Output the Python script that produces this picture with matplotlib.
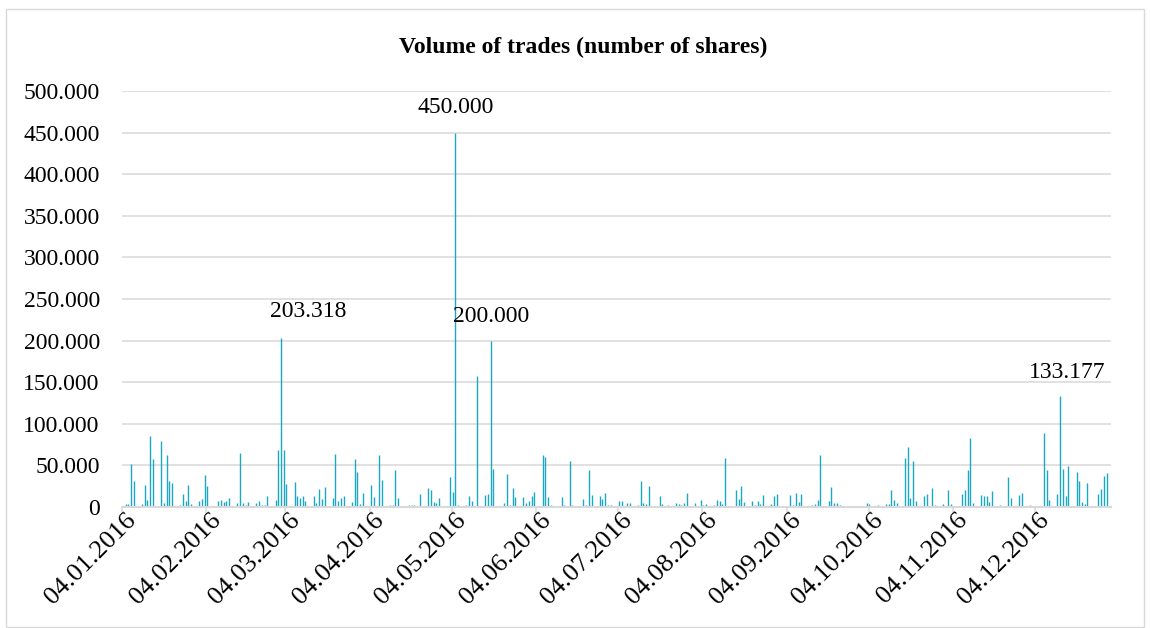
import matplotlib
matplotlib.use("Agg")
import matplotlib.pyplot as plt
import matplotlib.dates as mdates
from matplotlib.patches import Rectangle
from matplotlib.ticker import FuncFormatter
from matplotlib.transforms import ScaledTranslation
import numpy as np
import datetime as dt

# ---- data ----
trade_dates = [
    "2016-01-05", "2016-01-06", "2016-01-07", "2016-01-08", "2016-01-11", "2016-01-12", "2016-01-13",
    "2016-01-14", "2016-01-15", "2016-01-18", "2016-01-19", "2016-01-20", "2016-01-21", "2016-01-22",
    "2016-01-25", "2016-01-26", "2016-01-27", "2016-01-28", "2016-01-29",
    "2016-02-01", "2016-02-02", "2016-02-03", "2016-02-04", "2016-02-05", "2016-02-08", "2016-02-09",
    "2016-02-10", "2016-02-11", "2016-02-12", "2016-02-15", "2016-02-16", "2016-02-17", "2016-02-18",
    "2016-02-19", "2016-02-22", "2016-02-23", "2016-02-24", "2016-02-25", "2016-02-26", "2016-02-29",
    "2016-03-01", "2016-03-02", "2016-03-03", "2016-03-04", "2016-03-07", "2016-03-08", "2016-03-09",
    "2016-03-10", "2016-03-11", "2016-03-14", "2016-03-15", "2016-03-16", "2016-03-17", "2016-03-18",
    "2016-03-21", "2016-03-22", "2016-03-23", "2016-03-24", "2016-03-25", "2016-03-28", "2016-03-29",
    "2016-03-30", "2016-03-31",
    "2016-04-01", "2016-04-04", "2016-04-05", "2016-04-07", "2016-04-08", "2016-04-11", "2016-04-12",
    "2016-04-13", "2016-04-14", "2016-04-15", "2016-04-18", "2016-04-19", "2016-04-20", "2016-04-22",
    "2016-04-25", "2016-04-26", "2016-04-27", "2016-04-28", "2016-04-29",
    "2016-05-03", "2016-05-04", "2016-05-05", "2016-05-06", "2016-05-09", "2016-05-10", "2016-05-11",
    "2016-05-13", "2016-05-16", "2016-05-17", "2016-05-18", "2016-05-19", "2016-05-23", "2016-05-24",
    "2016-05-25", "2016-05-26", "2016-05-27", "2016-05-30", "2016-05-31",
    "2016-06-01", "2016-06-02", "2016-06-03", "2016-06-06", "2016-06-07", "2016-06-08", "2016-06-09",
    "2016-06-10", "2016-06-13", "2016-06-14", "2016-06-16", "2016-06-17", "2016-06-21", "2016-06-22",
    "2016-06-23", "2016-06-24", "2016-06-27", "2016-06-28", "2016-06-29", "2016-06-30",
    "2016-07-01", "2016-07-04", "2016-07-05", "2016-07-06", "2016-07-07", "2016-07-08", "2016-07-11",
    "2016-07-12", "2016-07-13", "2016-07-14", "2016-07-15", "2016-07-19", "2016-07-20", "2016-07-22",
    "2016-07-25", "2016-07-26", "2016-07-27", "2016-07-28", "2016-07-29",
    "2016-08-01", "2016-08-03", "2016-08-04", "2016-08-05", "2016-08-08", "2016-08-09", "2016-08-10",
    "2016-08-11", "2016-08-12", "2016-08-16", "2016-08-17", "2016-08-18", "2016-08-19", "2016-08-22",
    "2016-08-23", "2016-08-24", "2016-08-25", "2016-08-26", "2016-08-29", "2016-08-30", "2016-08-31",
    "2016-09-02", "2016-09-05", "2016-09-06", "2016-09-07", "2016-09-08", "2016-09-09", "2016-09-12",
    "2016-09-13", "2016-09-14", "2016-09-15", "2016-09-16", "2016-09-19", "2016-09-20", "2016-09-21",
    "2016-09-22", "2016-09-23", "2016-09-26", "2016-09-29",
    "2016-10-03", "2016-10-04", "2016-10-07", "2016-10-10", "2016-10-11", "2016-10-12", "2016-10-13",
    "2016-10-14", "2016-10-17", "2016-10-18", "2016-10-19", "2016-10-20", "2016-10-21", "2016-10-24",
    "2016-10-25", "2016-10-26", "2016-10-27", "2016-10-28", "2016-10-31",
    "2016-11-02", "2016-11-03", "2016-11-07", "2016-11-08", "2016-11-09", "2016-11-10", "2016-11-11",
    "2016-11-14", "2016-11-15", "2016-11-16", "2016-11-17", "2016-11-18", "2016-11-21", "2016-11-23",
    "2016-11-24", "2016-11-25", "2016-11-28", "2016-11-29",
    "2016-12-02", "2016-12-06", "2016-12-07", "2016-12-08", "2016-12-09", "2016-12-12", "2016-12-13",
    "2016-12-14", "2016-12-15", "2016-12-16", "2016-12-19", "2016-12-20", "2016-12-21", "2016-12-22",
    "2016-12-23", "2016-12-27", "2016-12-28", "2016-12-29", "2016-12-30",
]

volumes = [
    4000, 4000, 52000, 31700, 3600, 26000, 9000,
    85000, 58000, 79000, 5000, 62000, 31700, 28500,
    2000, 15400, 7000, 26000, 3700,
    7000, 10000, 38000, 25000, 1000, 7000, 9000,
    6000, 7000, 11000, 4500, 64600, 5000, 2000,
    6500, 4500, 7000, 2400, 2400, 13000, 9000,
    68000, 203318, 69000, 28000, 30000, 13000, 11000,
    13400, 7000, 13000, 5000, 22000, 10000, 24000,
    11000, 64000, 7000, 10500, 13400, 6000, 57700,
    41500, 3700,
    17000, 27000, 12000, 62000, 33000, 2000, 2000,
    44700, 11000, 1000, 2000, 2000, 2400, 16000,
    22700, 20000, 6000, 4500, 11000,
    36000, 17500, 450000, 3000, 3000, 13400, 7000,
    158000, 14000, 16000, 200000, 46000, 5000, 40000,
    2000, 23000, 12000, 12000, 5000,
    7000, 13000, 18000, 62000, 60500, 12600, 2400,
    1600, 12000, 2000, 55000, 2400, 10000, 2400,
    44000, 14000, 13000, 10000, 16700, 2000,
    2000, 7000, 7000, 1600, 4500, 5000, 3000,
    31700, 5000, 3700, 25600, 13400, 3700, 2000,
    4500, 3700, 2000, 4500, 16700,
    4500, 8000, 3000, 3700, 3000, 9000, 7000,
    3700, 59000, 20000, 10000, 25000, 6500, 7000,
    3000, 7000, 3700, 14000, 3700, 13400, 15400,
    1000, 14000, 3000, 16700, 6000, 15400, 1000,
    3000, 3700, 8500, 62000, 7700, 24000, 4500,
    4500, 2400, 1000, 800,
    5000, 4000, 2000, 3700, 3700, 20000, 9000,
    4500, 59000, 72000, 11000, 55700, 7000, 13400,
    15800, 1600, 23000, 2000, 3700,
    20000, 3700, 15400, 20000, 44000, 82500, 4500,
    15000, 13400, 13400, 6500, 19000, 2400, 1000,
    36000, 11000, 14600, 17000,
    2000, 1000, 88600, 44700, 9000, 15800, 133177,
    46000, 13400, 49600, 41500, 31700, 6000, 3700,
    29000, 15400, 21500, 37400, 41000,
]

tick_dates = ["2016-01-04", "2016-02-04", "2016-03-04", "2016-04-04", "2016-05-04", "2016-06-04",
              "2016-07-04", "2016-08-04", "2016-09-04", "2016-10-04", "2016-11-04", "2016-12-04"]
labelled_dates = ["2016-03-02", "2016-05-05", "2016-05-18", "2016-12-13"]
y_ticks = [0, 50000, 100000, 150000, 200000, 250000, 300000, 350000, 400000, 450000, 500000]
title_text = "Volume of trades (number of shares)"

# ---- style ----
W, H = 1151, 628
SERIF = ["Liberation Serif", "DejaVu Serif"]
BAR_COLOR = "#1BA8C3"
GRID_COLOR = "#D9D9D9"

def to_num(s):
    return mdates.date2num(dt.datetime.strptime(s, "%Y-%m-%d"))

x = np.array([to_num(d) for d in trade_dates])
y = np.array(volumes, dtype=float)

fig = plt.figure(figsize=(W / 100, H / 100), dpi=100)
fig.patch.set_facecolor("white")

# chart border
fig.patches.append(Rectangle((6 / W, 1 - 627 / H), (1144 - 6) / W, (627 - 9) / H,
                             transform=fig.transFigure, fill=False,
                             edgecolor=GRID_COLOR, linewidth=1.0))

left, right, top, bottom = 122, 1111, 91, 507
ax = fig.add_axes([left / W, 1 - bottom / H, (right - left) / W, (bottom - top) / H])

# thin daily bars (about 1.4 px wide)
ax.vlines(x + 0.35, 0, y, colors=BAR_COLOR, linewidth=1.0, snap=True, zorder=3)

ax.set_xlim(to_num("2016-01-04"), to_num("2017-01-01"))
ax.set_ylim(0, 500000)

ax.set_yticks(y_ticks)
ax.yaxis.set_major_formatter(FuncFormatter(lambda v, p: f"{int(v):,}".replace(",", ".")))
ax.grid(axis="y", color=GRID_COLOR, linewidth=1.1, zorder=0)
ax.tick_params(axis="y", length=0, pad=16, labelsize=17)
for lab in ax.get_yticklabels():
    lab.set_fontfamily(SERIF)

ax.set_xticks([to_num(d) for d in tick_dates])
ax.xaxis.set_major_formatter(mdates.DateFormatter("%d.%m.%Y"))
ax.tick_params(axis="x", length=5, width=1.1, color=GRID_COLOR, pad=2, labelsize=19)
shift = ScaledTranslation(11 / 100, 0, fig.dpi_scale_trans)
for lab in ax.get_xticklabels():
    lab.set_fontfamily(SERIF)
    lab.set_rotation(45)
    lab.set_ha("right")
    lab.set_va("center")
    lab.set_rotation_mode("anchor")
    lab.set_transform(lab.get_transform() + shift)

for side in ["top", "right", "left"]:
    ax.spines[side].set_visible(False)
ax.spines["bottom"].set_color(GRID_COLOR)
ax.spines["bottom"].set_linewidth(1.5)
ax.spines["bottom"].set_zorder(4)

# data labels
label_offsets = {"2016-03-02": (27, 16), "2016-05-05": (0, 15),
                 "2016-05-18": (0, 14), "2016-12-13": (7, 13)}
for d in labelled_dates:
    i = trade_dates.index(d)
    v = volumes[i]
    dx, dy = label_offsets[d]
    ax.annotate(f"{v:,}".replace(",", "."), xy=(x[i] + 0.35, v), xytext=(dx, dy),
                textcoords="offset pixels", ha="center", va="bottom",
                fontsize=17, family=SERIF, color="black", zorder=5)

fig.text(583 / W, 1 - 47 / H, title_text, ha="center", va="center",
         fontsize=17, fontweight="bold", family=SERIF)

fig.savefig("out.png", dpi=100, facecolor="white")
